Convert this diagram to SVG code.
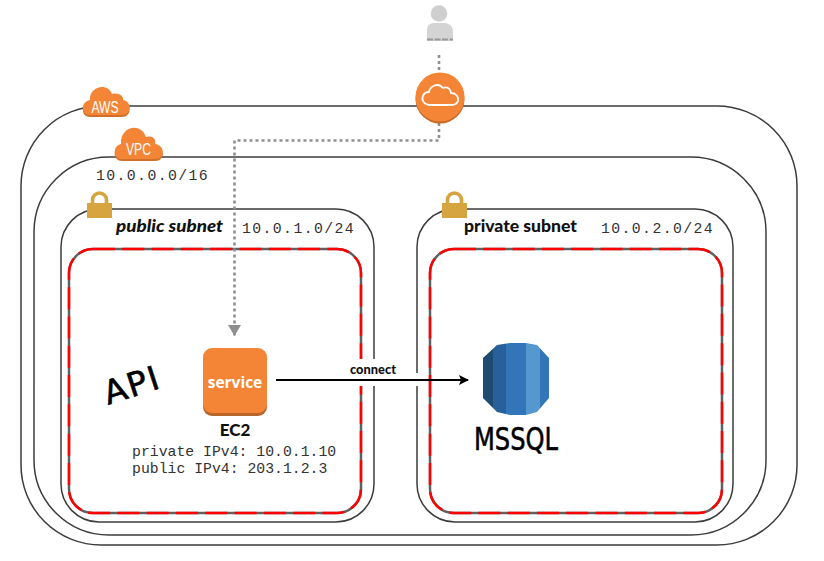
<svg xmlns="http://www.w3.org/2000/svg" width="824" height="561" viewBox="0 0 824 561">
<style>
.box{fill:none;stroke:#3c3c3c;stroke-width:1.5}
.base{fill:none;stroke:#606060;stroke-width:2.5}
.red{fill:none;stroke:#ff0000;stroke-width:2.5;stroke-dasharray:22 7.3}
.dot{fill:none;stroke:#8f8f8f;stroke-width:2.6;stroke-dasharray:3 3}
.mono{font-family:"Liberation Mono",monospace;font-size:14.800px;fill:#333}
.lab{font-family:"Lato","Liberation Sans",sans-serif;font-weight:900;fill:#111}
.hand{font-family:"DejaVu Sans",sans-serif;fill:#000;stroke:#000;stroke-width:.6}
.cloud{fill:#f58536}
.cloudb{fill:#d0702a}
.cloudt{font-family:"Liberation Sans",sans-serif;fill:#fff;font-size:16px;text-anchor:middle}
.lock{fill:#d6a53f}
.shackle{fill:none;stroke:#d6a53f;stroke-width:3.600}
</style>
<defs>
<marker id="ag" markerWidth="13" markerHeight="12" refX="6.500" refY="11" orient="0" markerUnits="userSpaceOnUse"><path d="M0 0H13L6.500 11Z" fill="#8f8f8f"/></marker>
<marker id="ab" markerWidth="10" markerHeight="10" refX="9" refY="5" orient="auto" markerUnits="userSpaceOnUse"><path d="M0 0L10 5L0 10L2 5Z" fill="#000"/></marker>
<clipPath id="db"><path d="M483 358L497 345L510 343H526L537 345L549 358V398L537 412L526 415H510L497 412L483 398Z"/></clipPath>
</defs>
<g id="aws-region"><rect class="box" x="21" y="106" width="776" height="439" rx="80"/></g>
<g id="vpc"><rect class="box" x="34" y="157" width="732" height="378" rx="75"/></g>
<g id="public-subnet"><rect class="box" x="61" y="209" width="313" height="313" rx="38"/>
<rect class="base" x="69" y="249" width="292" height="264" rx="24"/><rect class="red" x="69" y="249" width="292" height="264" rx="24"/>
<rect x="355" y="359" width="24" height="27" fill="#fff"/>
<path class="lock" d="M87 203H112V218H87Z"/><path class="shackle" d="M92.500 204V200A7 7 0 0 1 106.500 200V204"/>
<text class="lab" x="116" y="232" font-size="16.500" font-style="italic" textLength="107" lengthAdjust="spacingAndGlyphs">public subnet</text>
<text class="mono" x="242" y="233" letter-spacing="1.400">10.0.1.0/24</text></g>
<g id="private-subnet"><rect class="box" x="417" y="209" width="316" height="313" rx="38"/>
<rect x="412" y="373" width="10" height="13" fill="#fff"/>
<rect class="base" x="430" y="249" width="292" height="264" rx="24"/><rect class="red" x="430" y="249" width="292" height="264" rx="24"/>
<path class="lock" d="M442 203H467V218H442Z"/><path class="shackle" d="M447.500 204V200A7 7 0 0 1 461.500 200V204"/>
<text class="lab" x="464" y="232" font-size="16.500" textLength="113" lengthAdjust="spacingAndGlyphs">private subnet</text>
<text class="mono" x="601" y="233" letter-spacing="1.400">10.0.2.0/24</text></g>
<g id="aws-cloud"><path class="cloudb" d="M90 117C81 117 80 104 90 102C89 88 108 84 112 96C120 94 124 99 123 102C132 103 132 117 122 117Z"/>
<path class="cloud" d="M90 115C81 115 80 102 90 100C89 86 108 82 112 94C120 92 124 97 123 100C132 101 132 115 122 115Z"/>
<text class="cloudt" x="105" y="112.500" textLength="27" lengthAdjust="spacingAndGlyphs">AWS</text></g>
<g id="vpc-cloud"><path class="cloudb" d="M122 161C113 161 112 148 121 146C120 128 141 124 146 139C154 137 156 142 155 146C165 147 166 161 155 161Z"/>
<path class="cloud" d="M122 159C113 159 112 146 121 144C120 126 141 122 146 137C154 135 156 140 155 144C165 145 166 159 155 159Z"/>
<text class="cloudt" x="138.500" y="155" textLength="25" lengthAdjust="spacingAndGlyphs">VPC</text></g>
<text class="mono" x="96" y="180" letter-spacing="1.400">10.0.0.0/16</text>
<g id="connectors">
<path class="dot" d="M439 55V71"/>
<path class="dot" d="M439 123V140.500H234.500V336" marker-end="url(#ag)"/>
<path d="M276 380H468" fill="none" stroke="#000" stroke-width="2" marker-end="url(#ab)"/>
<text class="lab" x="350" y="374" font-size="12.500" textLength="46" lengthAdjust="spacingAndGlyphs">connect</text>
</g>
<g id="user"><circle cx="439" cy="13.500" r="8.300" fill="#cfcfcf"/><path d="M427 41V30Q427 24 433 23H445Q452 24 453 30V41Z" fill="#d4d4d4"/><path d="M427 39.500H453" stroke="#999" stroke-width="2" stroke-dasharray="6 1.500"/></g>
<g id="internet-gateway"><circle cx="440" cy="99" r="24.500" fill="#c46a2a"/><circle cx="440" cy="97" r="24.500" fill="#f58536"/>
<path d="M431 105C424 105 421 100 423 96C424 93 427 92 429 92C430 86 438 82 443 88C448 86 451 90 451 93C456 93 459 97 458 101C457 104 454 105 451 105Z" fill="none" stroke="#fff" stroke-width="1.800"/></g>
<g id="ec2"><rect x="203" y="350" width="64" height="66" rx="9" fill="#b9662b"/><rect x="203" y="348" width="64" height="65" rx="9" fill="#f58536"/>
<text x="235" y="388" text-anchor="middle" font-family="'Open Sans','Liberation Sans',sans-serif" font-weight="700" font-size="15.500" fill="#fff">service</text>
<text class="lab" x="235" y="436" text-anchor="middle" font-size="17">EC2</text>
<text class="mono" x="132" y="456">private IPv4: 10.0.1.10</text>
<text class="mono" x="132" y="473">public IPv4: 203.1.2.3</text></g>
<text class="hand" x="108" y="405" font-size="33" transform="rotate(-18 108 405)" textLength="56" lengthAdjust="spacing">API</text>
<g id="mssql"><g clip-path="url(#db)"><rect x="483" y="342" width="10" height="74" fill="#1f4b73"/><rect x="493" y="342" width="13" height="74" fill="#27609b"/><rect x="506" y="342" width="20" height="74" fill="#3275b9"/><rect x="526" y="342" width="14" height="74" fill="#5597cf"/><rect x="540" y="342" width="9" height="74" fill="#3275b9"/></g></g>
<text class="hand" x="474" y="450" font-size="32" textLength="84" lengthAdjust="spacingAndGlyphs">MSSQL</text>
</svg>
